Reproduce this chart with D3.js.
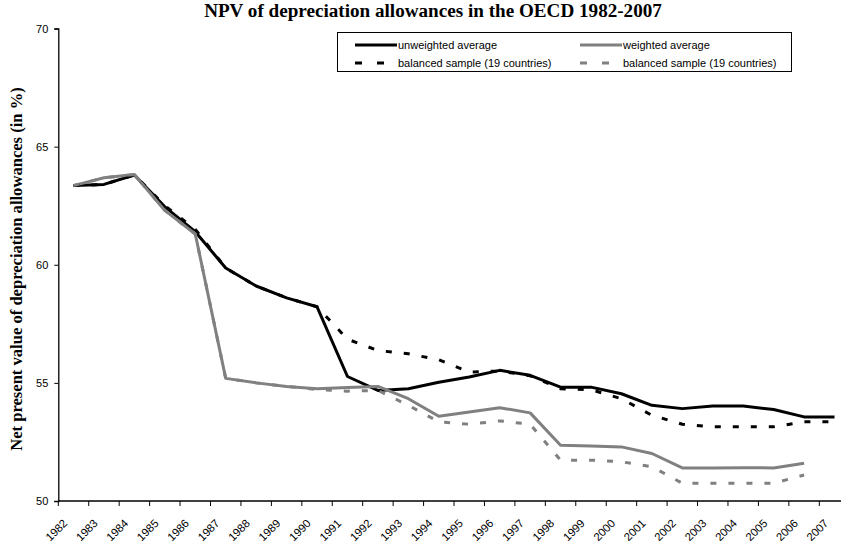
<!DOCTYPE html>
<html>
<head>
<meta charset="utf-8">
<script src="https://cdn.jsdelivr.net/npm/d3@7"></script>
<style>
  body { margin: 0; background: #fff; }
  svg { display: block; }
  .tick text { font-family: "Liberation Sans", Arial, sans-serif; font-size: 11px; fill: #000; }
</style>
</head>
<body>
<script>
var years = ["1982","1983","1984","1985","1986","1987","1988","1989","1990","1991","1992","1993","1994",
             "1995","1996","1997","1998","1999","2000","2001","2002","2003","2004","2005","2006","2007"];

var unweighted = [63.35, 63.4, 63.8, 62.45, 61.4, 59.86, 59.1, 58.6, 58.22, 55.27, 54.68, 54.75, 55.03,
                  55.25, 55.53, 55.32, 54.82, 54.82, 54.54, 54.05, 53.91, 54.02, 54.02, 53.87, 53.56, 53.56];
var weighted = [63.35, 63.68, 63.82, 62.3, 61.3, 55.19, 55.0, 54.85, 54.75, 54.8, 54.85, 54.33, 53.59,
                53.77, 53.95, 53.73, 52.36, 52.33, 52.29, 52.01, 51.4, 51.4, 51.41, 51.4, 51.6];
var unweightedBal = [63.35, 63.4, 63.8, 62.5, 61.5, 59.86, 59.1, 58.6, 58.22, 56.85, 56.37, 56.23, 55.98,
                     55.46, 55.5, 55.3, 54.75, 54.71, 54.33, 53.63, 53.25, 53.14, 53.14, 53.14, 53.35, 53.35];
var weightedBal = [63.35, 63.68, 63.82, 62.3, 61.3, 55.19, 55.0, 54.85, 54.72, 54.65, 54.68, 54.05, 53.35,
                   53.25, 53.39, 53.25, 51.73, 51.73, 51.66, 51.45, 50.75, 50.75, 50.75, 50.75, 51.1];

var yTicks = [50, 55, 60, 65, 70];

var series = [
  {name: "unweighted average", values: unweighted, color: "#000", dash: null},
  {name: "weighted average", values: weighted, color: "#808080", dash: null},
  {name: "balanced sample (19 countries)", values: unweightedBal, color: "#000", dash: "6,12"},
  {name: "balanced sample (19 countries)", values: weightedBal, color: "#808080", dash: "6,12"}
];

var width = 841, height = 546;
var svg = d3.select("body").append("svg")
  .attr("width", width)
  .attr("height", height);

// plot area runs off the right edge like the original crop
var x = d3.scaleBand().domain(years).range([58.3, 58.3 + 26 * 30.44]);
var y = d3.scaleLinear().domain([50, 70]).range([501, 28.5]);

// y axis
var yAxis = svg.append("g")
  .attr("transform", "translate(58.3,0)")
  .call(d3.axisLeft(y).tickValues(yTicks).tickSize(4).tickPadding(6));
yAxis.select(".domain").attr("stroke", "#000").attr("stroke-width", 1.3);
yAxis.selectAll(".tick line").attr("stroke", "#000");

// x axis, tick marks between categories
var xAxis = svg.append("g")
  .attr("transform", "translate(0,501)");
xAxis.append("line")
  .attr("x1", 58.3).attr("x2", width)
  .attr("stroke", "#000").attr("stroke-width", 1.3);
xAxis.selectAll(".xt").data(years).enter()
  .append("line")
  .attr("class", "xt")
  .attr("x1", function(d){ return x(d); })
  .attr("x2", function(d){ return x(d); })
  .attr("y1", 0).attr("y2", 5)
  .attr("stroke", "#000");
xAxis.selectAll(".xl").data(years).enter()
  .append("text")
  .attr("class", "xl")
  .attr("transform", function(d){ return "translate(" + (x(d) + x.bandwidth() / 2 - 5.5) + ",23) rotate(-45)"; })
  .attr("text-anchor", "end")
  .attr("font-family", "Liberation Sans, Arial, sans-serif")
  .attr("font-size", "11.3px")
  .text(function(d){ return d; });

// lines
var line = d3.line()
  .x(function(d, i){ return x(years[i]) + x.bandwidth() / 2; })
  .y(function(d){ return y(d); });

svg.selectAll(".series").data(series).enter()
  .append("path")
  .attr("class", "series")
  .attr("d", function(s){ return line(s.values); })
  .attr("fill", "none")
  .attr("stroke", function(s){ return s.color; })
  .attr("stroke-width", 3)
  .attr("stroke-linejoin", "round")
  .attr("stroke-dasharray", function(s){ return s.dash; });

// fit a text to a measured width
function fitText(t, target){
  var fs = parseFloat(t.attr("font-size"));
  var len = t.node().getComputedTextLength();
  if (len > 0) t.attr("font-size", (fs * target / len) + "px");
}

// title
var title = svg.append("text")
  .attr("x", 433).attr("y", 17)
  .attr("text-anchor", "middle")
  .attr("font-family", "Liberation Serif, Times New Roman, serif")
  .attr("font-weight", "bold")
  .attr("font-size", "16px")
  .text("NPV of depreciation allowances in the OECD 1982-2007");
fitText(title, 458);

var ytitle = svg.append("text")
  .attr("transform", "translate(22,269) rotate(-90)")
  .attr("text-anchor", "middle")
  .attr("font-family", "Liberation Serif, Times New Roman, serif")
  .attr("font-weight", "bold")
  .attr("font-size", "15px")
  .text("Net present value of depreciation allowances (in %)");
fitText(ytitle, 364);

// legend
var lg = svg.append("g");
lg.append("rect")
  .attr("x", 337.5).attr("y", 32.5).attr("width", 454).attr("height", 39)
  .attr("fill", "#fff").attr("stroke", "#000");
var legPos = [[355, 45], [580, 45], [355, 63], [580, 63]];
series.forEach(function(s, i){
  var p = legPos[i];
  lg.append("line")
    .attr("x1", p[0]).attr("x2", p[0] + 42)
    .attr("y1", p[1]).attr("y2", p[1])
    .attr("stroke", s.color).attr("stroke-width", 3)
    .attr("stroke-dasharray", s.dash ? "7,15" : null);
  lg.append("text")
    .attr("x", p[0] + 43).attr("y", p[1] + 4)
    .attr("font-family", "Liberation Sans, Arial, sans-serif")
    .attr("font-size", "11px")
    .text(s.name);
});
</script>
</body>
</html>
